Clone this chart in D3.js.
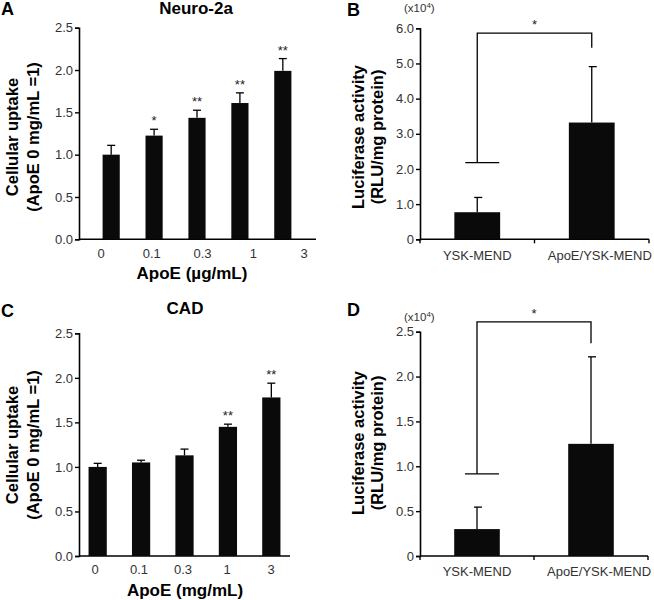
<!DOCTYPE html>
<html><head><meta charset="utf-8">
<script src="https://cdn.jsdelivr.net/npm/d3@7"></script>
<style>
body{margin:0;background:#fff;}
svg{font-family:"Liberation Sans",Arial,Helvetica,sans-serif;}
</style></head><body>
<svg id="c" width="654" height="600"></svg>
<script>
// ---- Data ----
const doseLabelsA = ["0","0.1","0.3","1","3"];
const uptakeA = [1.0, 1.225, 1.435, 1.61, 1.99];
const uptakeErrA = [0.11, 0.075, 0.09, 0.12, 0.145];
const starsA = ["", "*", "**", "**", "**"];

const doseLabelsC = ["0","0.1","0.3","1","3"];
const uptakeC = [1.0, 1.05, 1.13, 1.45, 1.78];
const uptakeErrC = [0.04, 0.025, 0.07, 0.03, 0.16];
const starsC = ["", "", "", "**", "**"];

const groups = ["YSK-MEND","ApoE/YSK-MEND"];
const lucB = [0.77, 3.32];
const lucErrB = [0.42, 1.59];
const bracketB = {top: 5.86, left: 2.18, right: 5.45};
const yTicksB = [0, 1, 2, 3, 4, 5, 6];

const lucD = [0.30, 1.25];
const lucErrD = [0.245, 0.97];
const bracketD = {top: 2.61, left: 0.915, right: 2.37};
const yTicksD = [0, 0.5, 1, 1.5, 2, 2.5];

const yTicksAC = [0, 0.5, 1, 1.5, 2, 2.5];

const svg = d3.select("#c");
const tickColor = "#333";
const tickSize = "13px";
const labelSize = "16.5px";
const titleSize = "17px";

function yAxis(g, y, x0, ticks, fmt){
  const ax = g.append("g").attr("transform",`translate(${x0},0)`)
    .call(d3.axisLeft(y).tickValues(ticks).tickSize(4).tickPadding(2).tickFormat(fmt));
  ax.select(".domain").attr("stroke","#000").attr("stroke-width",1.6);
  ax.selectAll(".tick line").attr("stroke","#000").attr("stroke-width",1.4);
  ax.selectAll(".tick text").attr("fill",tickColor).style("font-size",tickSize).style("font-family","Liberation Sans, Arial, sans-serif");
  return ax;
}

function yLabel(g, cx1, cx2, cy, l1, l2, size){
  g.append("text").attr("transform",`translate(${cx1},${cy}) rotate(-90)`)
    .attr("text-anchor","middle").attr("font-weight","bold").attr("font-size",size).text(l1);
  g.append("text").attr("transform",`translate(${cx2},${cy}) rotate(-90)`)
    .attr("text-anchor","middle").attr("font-weight","bold").attr("font-size",size).text(l2);
}

// ---- Panel A / C (dose-response) ----
function dosePanel(o){
  const g = svg.append("g");
  const y = d3.scaleLinear().domain([0,2.5]).range([o.y0, o.y1]);
  const x = d3.scaleBand().domain(d3.range(o.vals.length)).range([o.xa, o.xb]).paddingInner(o.pad).paddingOuter(o.padOut);
  const xl = d3.scalePoint().domain(o.labels).range(o.labelRange);
  yAxis(g, y, o.xAxis, yTicksAC, d3.format(".1f"));
  g.append("line").attr("x1",o.xAxis).attr("x2",o.xEnd).attr("y1",y(0)).attr("y2",y(0)).attr("stroke","#000").attr("stroke-width",1.6);
  g.selectAll("rect.bar").data(o.vals).join("rect")
    .attr("x",(d,i)=>x(i)).attr("width",x.bandwidth())
    .attr("y",d=>y(d)).attr("height",d=>y(0)-y(d)).attr("fill","#0a0a0a");
  o.vals.forEach((v,i)=>{
    const cx = x(i)+x.bandwidth()/2;
    g.append("line").attr("x1",cx).attr("x2",cx).attr("y1",y(v)).attr("y2",y(v+o.errs[i])).attr("stroke","#000").attr("stroke-width",1.3);
    g.append("line").attr("x1",cx-4).attr("x2",cx+4).attr("y1",y(v+o.errs[i])).attr("y2",y(v+o.errs[i])).attr("stroke","#000").attr("stroke-width",1.3);
    if(o.stars[i]) g.append("text").attr("x",cx).attr("y",y(v+o.errs[i])-o.starGap).attr("text-anchor","middle")
      .attr("font-size","13px").attr("fill","#222").text(o.stars[i]);
  });
  g.selectAll("text.xl").data(o.labels).join("text").attr("class","xl")
    .attr("x",d=>xl(d)).attr("y",o.labelY).attr("text-anchor","middle")
    .attr("font-size",tickSize).attr("fill",tickColor).text(d=>d);
  g.append("text").attr("x",o.titleX).attr("y",o.titleY).attr("text-anchor","middle").attr("font-weight","bold").attr("font-size",titleSize).text(o.title);
  g.append("text").attr("x",o.xtX).attr("y",o.xtY).attr("text-anchor","middle").attr("font-weight","bold").attr("font-size",titleSize).text(o.xTitle);
  g.append("text").attr("x",o.letterX).attr("y",o.letterY).attr("font-weight","bold").attr("font-size","18px").text(o.letter);
  yLabel(g, o.ylx1, o.ylx2, o.yly, "Cellular uptake", "(ApoE 0 mg/mL =1)", labelSize);
}

dosePanel({vals:uptakeA, errs:uptakeErrA, stars:starsA, labels:doseLabelsA,
  y0:239.3, y1:27.7, xa:79, xb:315, pad:0.6, padOut:0.55, xAxis:79, xEnd:316,
  labelRange:[101,304], labelY:258, starGap:4,
  title:"Neuro-2a", titleX:196, titleY:14, xTitle:"ApoE (\u00b5g/mL)", xtX:192, xtY:279,
  letter:"A", letterX:1, letterY:15, ylx1:18, ylx2:39, yly:137});

dosePanel({vals:uptakeC, errs:uptakeErrC, stars:starsC, labels:doseLabelsC,
  y0:556, y1:333.3, xa:79, xb:290, pad:0.58, padOut:0.22, xAxis:79, xEnd:290,
  labelRange:[95,271], labelY:574, starGap:4,
  title:"CAD", titleX:185, titleY:314, xTitle:"ApoE (mg/mL)", xtX:185, xtY:596,
  letter:"C", letterX:1, letterY:317, ylx1:18, ylx2:39, yly:445});

// ---- Panel B / D (luciferase) ----
function lucPanel(o){
  const g = svg.append("g");
  const y = d3.scaleLinear().domain(o.domain).range([o.y0, o.y1]);
  const x = d3.scaleBand().domain(groups).range([o.xa, o.xb]).paddingInner(0.6).paddingOuter(0.3);
  yAxis(g, y, o.xa, o.ticks, d=> d===0 ? "0" : d3.format(".1f")(d));
  const xAx = g.append("g").attr("transform",`translate(0,${y(0)})`)
    .call(d3.axisBottom(x).tickSize(0).tickPadding(11));
  xAx.select(".domain").remove();
  xAx.selectAll(".tick text").attr("fill",tickColor).style("font-size",tickSize).style("font-family","Liberation Sans, Arial, sans-serif");
  xAx.selectAll(".tick text").attr("dx",(d,i)=>o.labelDx[i]);
  g.append("line").attr("x1",o.xa).attr("x2",o.xb).attr("y1",y(0)).attr("y2",y(0)).attr("stroke","#000").attr("stroke-width",1.6);
  [o.xa, (o.xa+o.xb)/2, o.xb].forEach(t=>{
    g.append("line").attr("x1",t).attr("x2",t).attr("y1",y(0)).attr("y2",y(0)+4).attr("stroke","#000").attr("stroke-width",1.4);
  });
  g.selectAll("rect.bar").data(o.vals).join("rect")
    .attr("x",(d,i)=>x(groups[i])).attr("width",x.bandwidth())
    .attr("y",d=>y(d)).attr("height",d=>y(0)-y(d)).attr("fill","#0a0a0a");
  o.vals.forEach((v,i)=>{
    const cx = x(groups[i])+x.bandwidth()/2;
    g.append("line").attr("x1",cx).attr("x2",cx).attr("y1",y(v)).attr("y2",y(v+o.errs[i])).attr("stroke","#000").attr("stroke-width",1.3);
    g.append("line").attr("x1",cx-3).attr("x2",cx+5).attr("y1",y(v+o.errs[i])).attr("y2",y(v+o.errs[i])).attr("stroke","#000").attr("stroke-width",1.3);
  });
  // significance bracket
  const lx = x(groups[0])+x.bandwidth()/2, rx = x(groups[1])+x.bandwidth()/2;
  const b = o.bracket;
  g.append("path").attr("d",`M${lx},${y(b.left)}V${y(b.top)}H${rx}V${y(b.right)}`).attr("fill","none").attr("stroke","#000").attr("stroke-width",1.3);
  g.append("line").attr("x1",lx-12).attr("x2",lx+22).attr("y1",y(b.left)).attr("y2",y(b.left)).attr("stroke","#000").attr("stroke-width",1.3);
  g.append("text").attr("x",(lx+rx)/2).attr("y",y(b.top)-4).attr("text-anchor","middle").attr("font-size","13px").attr("fill","#222").text("*");
  // (x10^4)
  const t = g.append("text").attr("x",o.expX).attr("y",o.expY).attr("font-size","11.5px").attr("fill",tickColor);
  t.append("tspan").text("(x10");
  t.append("tspan").attr("dy",-4).attr("font-size","8px").text("4");
  t.append("tspan").attr("dy",4).text(")");
  g.append("text").attr("x",o.letterX).attr("y",o.letterY).attr("font-weight","bold").attr("font-size","18px").text(o.letter);
  yLabel(g, o.ylx1, o.ylx2, o.yly, "Luciferase activity", "(RLU/mg protein)", labelSize);
}

lucPanel({vals:lucB, errs:lucErrB, bracket:bracketB, ticks:yTicksB, domain:[0,6],
  y0:239.3, y1:28.3, xa:420, xb:649, labelDx:[0,8],
  expX:404, expY:12, letter:"B", letterX:347, letterY:16, ylx1:364, ylx2:383, yly:137});

lucPanel({vals:lucD, errs:lucErrD, bracket:bracketD, ticks:yTicksD, domain:[0,2.5],
  y0:556, y1:331.7, xa:420, xb:648, labelDx:[0,8],
  expX:404, expY:321, letter:"D", letterX:347, letterY:316, ylx1:364, ylx2:383, yly:443});
</script>
</body></html>
